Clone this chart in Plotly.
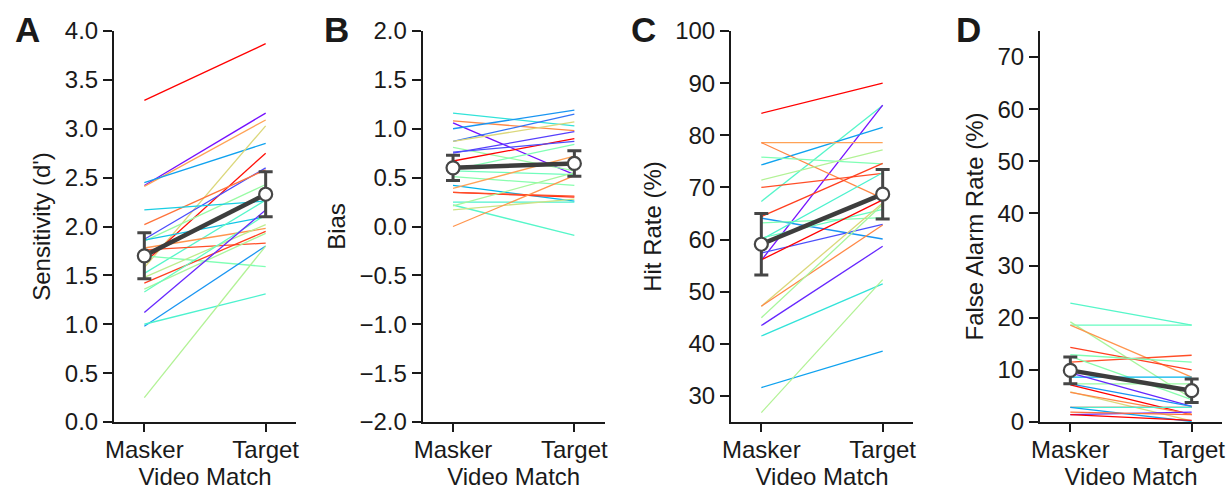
import math
import plotly.graph_objects as go

# ---------------- data ----------------
conditions = ["Masker", "Target"]

# Panel A: Sensitivity (d')
dprime_masker = [3.29, 2.42, 2.41, 2.45, 1.58, 1.63, 1.87, 2.02, 1.85, 2.17, 1.86, 1.52,
                 1.78, 1.76, 1.70, 1.48, 1.42, 1.36, 1.33, 1.12, 0.98, 1.00, 0.25]
dprime_target = [3.87, 3.16, 3.09, 2.85, 3.03, 2.75, 2.60, 2.58, 2.43, 2.26, 2.10, 2.27,
                 1.98, 1.83, 1.59, 2.02, 1.95, 1.93, 2.12, 2.17, 1.80, 1.31, 1.80]
dprime_subject_hue = [1.00, 0.02, 0.78, 0.22, 0.68, 0.98, 0.10, 0.85, 0.55, 0.30, 0.28, 0.42,
                      0.80, 0.90, 0.50, 0.62, 0.92, 0.58, 0.45, 0.05, 0.20, 0.40, 0.60]
dprime_mean = [1.70, 2.33]
dprime_sem = [0.235, 0.23]

# Panel B: Bias
bias_masker = [1.16, 1.08, 1.06, 1.00, 0.87, 0.87, 0.81, 0.75, 0.67, 0.76, 0.58, 0.57,
               0.51, 0.42, 0.39, 0.35, 0.35, 0.25, 0.22, 0.21, 0.17, 0.00]
bias_target = [1.03, 0.98, 0.53, 1.19, 1.15, 1.07, 0.57, 0.97, 0.90, 0.87, 0.84, 0.53,
               0.42, 0.26, 0.72, 0.30, 0.31, 0.25, -0.09, 0.55, 0.28, 0.52]
bias_subject_hue = [0.35, 0.82, 0.02, 0.20, 0.15, 0.68, 0.55, 0.08, 1.00, 0.10, 0.50, 0.47,
                    0.52, 0.25, 0.78, 0.95, 0.90, 0.40, 0.42, 0.58, 0.65, 0.80]
bias_mean = [0.60, 0.645]
bias_sem = [0.13, 0.13]

# Panel C: Hit Rate (%)
hit_masker = [84.2, 67.3, 56.0, 74.3, 78.6, 78.6, 75.8, 71.4, 70.0, 64.4, 64.1, 63.2,
              60.0, 60.3, 57.4, 56.1, 47.2, 47.2, 45.0, 43.5, 41.5, 31.6, 26.8]
hit_target = [90.0, 85.7, 85.8, 81.5, 78.6, 67.9, 74.5, 77.2, 72.7, 74.6, 60.1, 64.2,
              72.8, 65.8, 62.9, 67.6, 67.0, 62.8, 66.7, 58.7, 51.5, 38.6, 52.3]
hit_subject_hue = [1.00, 0.42, 0.02, 0.22, 0.78, 0.82, 0.50, 0.60, 0.90, 0.92, 0.20, 0.50,
                   0.40, 0.45, 0.10, 1.00, 0.68, 0.82, 0.58, 0.05, 0.35, 0.22, 0.60]
hit_mean = [59.1, 68.7]
hit_sem = [5.9, 4.75]

# Panel D: False Alarm Rate (%)
fa_masker = [22.8, 18.6, 19.2, 18.6, 14.3, 11.5, 12.9, 12.6, 8.6, 7.3, 9.4, 7.3,
             7.1, 5.8, 5.7, 2.8, 2.8, 2.8, 1.4, 1.4, 1.9]
fa_target = [18.6, 18.6, 4.5, 8.6, 10.0, 12.8, 11.5, 4.3, 8.6, 7.3, 3.0, 3.0,
             1.4, 0.2, 1.5, 2.8, 2.8, 0.1, 1.9, 0.3, 1.4]
fa_subject_hue = [0.42, 0.45, 0.58, 0.80, 0.92, 0.90, 0.50, 0.52, 0.25, 0.55, 0.05, 0.20,
                  1.00, 0.68, 0.82, 0.95, 0.40, 0.22, 0.05, 1.00, 0.85]
fa_mean = [9.9, 6.0]
fa_sem = [2.55, 2.25]

panel_letters = ["A", "B", "C", "D"]
y_titles = ["Sensitivity (d')", "Bias", "Hit Rate (%)", "False Alarm Rate (%)"]
x_title = "Video Match"


# ---------------- helpers ----------------
def rainbow(v):
    r = min(1, max(0, abs(2 * v - 0.5)))
    g = min(1, max(0, math.sin(math.pi * v)))
    b = min(1, max(0, math.cos(math.pi * v / 2)))
    return f"rgb({int(r*255)},{int(g*255)},{int(b*255)})"


W, H = 1229, 490
FONT = "Liberation Sans, Arial, sans-serif"
INK = "#1a1a1a"
GREY = "#464646"
FS = 24

panels = [
    (dprime_masker, dprime_target, dprime_subject_hue, dprime_mean, dprime_sem,
     [0, 4], 0.5, ".1f", (114, 296)),
    (bias_masker, bias_target, bias_subject_hue, bias_mean, bias_sem,
     [-2, 2], 0.5, ".1f", (422.7, 604.7)),
    (hit_masker, hit_target, hit_subject_hue, hit_mean, hit_sem,
     [25, 100], 10, "d", (731, 913)),
    (fa_masker, fa_target, fa_subject_hue, fa_mean, fa_sem,
     [0, 75], 10, "d", (1040, 1222)),
]
y_tick0 = [0, -2, 30, 0]

fig = go.Figure()
layout = dict(
    width=W, height=H,
    margin=dict(l=0, r=0, t=0, b=0),
    paper_bgcolor="white", plot_bgcolor="white",
    showlegend=False,
    font=dict(family=FONT, size=FS, color=INK),
    annotations=[],
)

ydom = [1 - 422 / H, 1 - 31 / H]
letter_x = [27, 337, 643, 968]

for i, (m, t, hue, mu, se, yr, dt, fmt, (x0, x1)) in enumerate(panels):
    k = "" if i == 0 else str(i + 1)
    xa, ya = "x" + k, "y" + k
    for a, b, h in zip(m, t, hue):
        fig.add_trace(go.Scatter(
            x=[0, 1], y=[a, b], mode="lines", xaxis=xa, yaxis=ya,
            line=dict(color=rainbow(h), width=1.3), hoverinfo="skip"))
    fig.add_trace(go.Scatter(
        x=[0, 1], y=mu, mode="lines+markers", xaxis=xa, yaxis=ya,
        line=dict(color="#3d3d3d", width=4.5),
        marker=dict(size=13, color="white", line=dict(color=GREY, width=2.2)),
        error_y=dict(type="data", array=se, visible=True, thickness=3,
                     width=7, color=GREY)))
    layout["xaxis" + k] = dict(
        domain=[x0 / W, x1 / W], anchor=ya, range=[-0.25, 1.25],
        tickvals=[0, 1], ticktext=conditions, ticks="outside", ticklen=8,
        tickwidth=2, tickcolor=INK, showline=True, linewidth=2, linecolor=INK,
        showgrid=False, zeroline=False, automargin=False,
        ticklabelstandoff=-3,
        title=dict(text=x_title, standoff=14, font=dict(size=FS)),
        tickfont=dict(size=FS))
    layout["yaxis" + k] = dict(
        domain=ydom, anchor=xa, range=yr, tick0=y_tick0[i], dtick=dt,
        tickformat=fmt, ticks="outside", ticklen=9, tickwidth=2, tickcolor=INK,
        showline=True, linewidth=2, linecolor=INK, showgrid=False,
        zeroline=False, automargin=False,
        title=dict(text=y_titles[i], standoff=7, font=dict(size=FS)),
        tickfont=dict(size=FS))
    layout["annotations"].append(dict(
        text=f"<b>{panel_letters[i]}</b>", xref="paper", yref="paper",
        x=letter_x[i] / W, y=1 - 30 / H, xanchor="center", yanchor="middle",
        showarrow=False, font=dict(size=35, family=FONT, color=INK)))

fig.update_layout(**layout)
fig.write_html("out.html")
